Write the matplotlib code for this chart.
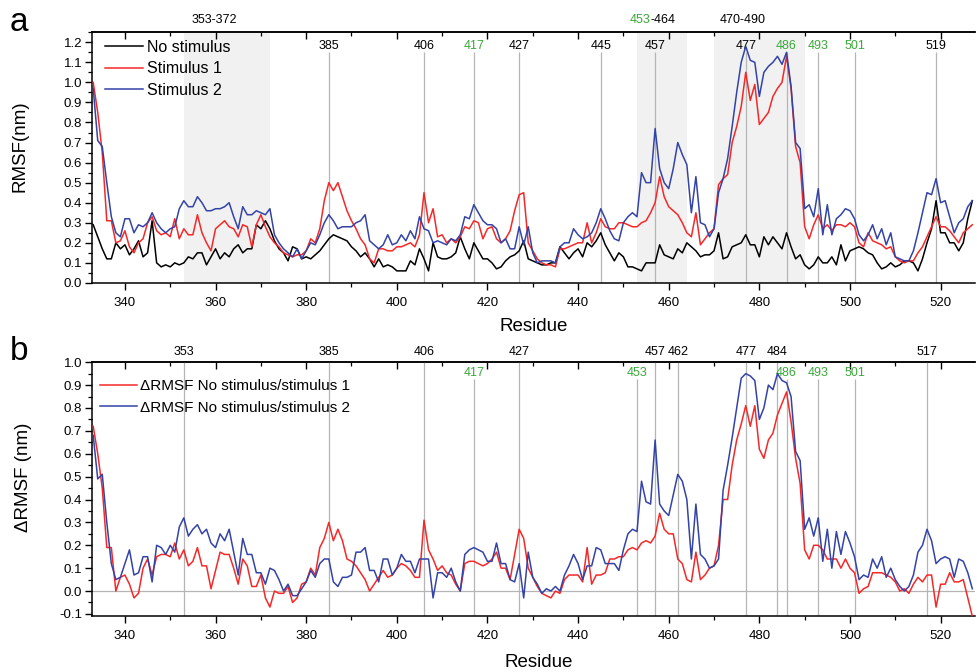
import numpy as np
import matplotlib
matplotlib.use("Agg")
import matplotlib.pyplot as plt
import matplotlib.transforms as mtransforms
from matplotlib.ticker import MultipleLocator, FormatStrFormatter

plt.rcParams['font.family'] = ['Liberation Sans', 'DejaVu Sans']

residues = np.arange(333, 528)

# ---- panel a: RMSF (nm) ----
no_stim_1 = [0.29, 0.23, 0.17, 0.12, 0.12, 0.20, 0.17, 0.19, 0.14, 0.17, 0.21, 0.13, 0.15, 0.31, 0.10,
             0.08, 0.09, 0.08, 0.10, 0.09, 0.10, 0.13, 0.12, 0.15, 0.15, 0.09, 0.13, 0.17, 0.12, 0.15,
             0.13, 0.17, 0.19, 0.15, 0.17, 0.17, 0.29, 0.27, 0.31, 0.27, 0.21, 0.17, 0.15, 0.11, 0.18,
             0.17, 0.12, 0.13, 0.12, 0.14, 0.16, 0.19, 0.22]
no_stim_2 = [0.24, 0.23, 0.22, 0.21, 0.18, 0.16, 0.13, 0.15, 0.12, 0.08, 0.12, 0.08, 0.09, 0.08, 0.06,
             0.06, 0.06, 0.11, 0.09, 0.17, 0.12, 0.06, 0.20, 0.13, 0.12, 0.12, 0.13, 0.15, 0.23, 0.17,
             0.12, 0.20, 0.16, 0.12, 0.12, 0.10, 0.07, 0.08, 0.11, 0.13, 0.14, 0.16, 0.21, 0.12, 0.11,
             0.10, 0.09, 0.09, 0.10, 0.10, 0.18, 0.15, 0.12, 0.15, 0.17, 0.13, 0.20, 0.18, 0.21, 0.25,
             0.19, 0.15, 0.11, 0.15, 0.13, 0.08, 0.08, 0.07, 0.06, 0.10]
no_stim_3 = [0.10, 0.10, 0.19, 0.14, 0.13, 0.12, 0.17, 0.15, 0.20, 0.18, 0.16, 0.13, 0.14, 0.14, 0.16,
             0.25, 0.12, 0.13, 0.18, 0.19, 0.20, 0.24, 0.19, 0.19, 0.13, 0.23, 0.19, 0.23, 0.20, 0.17,
             0.25, 0.18, 0.12, 0.14, 0.09, 0.07, 0.09, 0.13, 0.10, 0.10, 0.13, 0.09, 0.19, 0.11, 0.16,
             0.17, 0.18, 0.17, 0.15, 0.14, 0.10, 0.07, 0.08, 0.10, 0.08, 0.09, 0.11, 0.11, 0.10, 0.06,
             0.12, 0.20, 0.27, 0.41, 0.25, 0.25, 0.20, 0.20, 0.16, 0.20, 0.32, 0.41]

stim1_1 = [1.00, 0.85, 0.65, 0.31, 0.31, 0.20, 0.21, 0.26, 0.18, 0.15, 0.20, 0.22, 0.30, 0.33, 0.26,
           0.24, 0.25, 0.23, 0.32, 0.22, 0.27, 0.24, 0.24, 0.34, 0.25, 0.20, 0.16, 0.27, 0.29, 0.31,
           0.28, 0.27, 0.23, 0.29, 0.28, 0.18, 0.29, 0.34, 0.28, 0.23, 0.20, 0.18, 0.15, 0.14, 0.13,
           0.14, 0.14, 0.16, 0.22, 0.20, 0.27, 0.41, 0.50]
stim1_2 = [0.46, 0.50, 0.43, 0.36, 0.31, 0.27, 0.22, 0.19, 0.12, 0.10, 0.17, 0.17, 0.16, 0.16, 0.18,
           0.18, 0.19, 0.20, 0.18, 0.24, 0.45, 0.30, 0.37, 0.23, 0.24, 0.20, 0.22, 0.20, 0.23, 0.28,
           0.27, 0.31, 0.30, 0.22, 0.27, 0.28, 0.22, 0.20, 0.22, 0.26, 0.36, 0.44, 0.45, 0.20, 0.16,
           0.12, 0.10, 0.09, 0.09, 0.08, 0.17, 0.17, 0.18, 0.19, 0.20, 0.20, 0.30, 0.20, 0.25, 0.32,
           0.28, 0.27, 0.27, 0.30, 0.30, 0.29, 0.28, 0.28, 0.30, 0.31]
stim1_3 = [0.35, 0.40, 0.53, 0.43, 0.38, 0.36, 0.34, 0.30, 0.25, 0.23, 0.35, 0.19, 0.22, 0.25, 0.27,
           0.49, 0.52, 0.54, 0.70, 0.78, 0.88, 1.05, 0.91, 0.99, 0.79, 0.82, 0.85, 0.93, 0.97, 1.00,
           1.13, 0.97, 0.68, 0.60, 0.28, 0.22, 0.29, 0.34, 0.27, 0.29, 0.26, 0.29, 0.29, 0.28, 0.30,
           0.28, 0.20, 0.18, 0.25, 0.21, 0.20, 0.19, 0.17, 0.18, 0.13, 0.11, 0.10, 0.11, 0.11, 0.15,
           0.18, 0.23, 0.28, 0.33, 0.28, 0.28, 0.26, 0.23, 0.20, 0.25, 0.27, 0.29]

stim2_1 = [0.97, 0.71, 0.68, 0.50, 0.33, 0.25, 0.23, 0.32, 0.32, 0.25, 0.29, 0.28, 0.30, 0.35, 0.30,
           0.27, 0.25, 0.27, 0.28, 0.37, 0.41, 0.38, 0.38, 0.43, 0.40, 0.36, 0.36, 0.37, 0.37, 0.38,
           0.40, 0.33, 0.27, 0.38, 0.34, 0.34, 0.36, 0.35, 0.34, 0.37, 0.24, 0.20, 0.17, 0.15, 0.13,
           0.17, 0.12, 0.16, 0.20, 0.19, 0.24, 0.30, 0.34]
stim2_2 = [0.31, 0.27, 0.28, 0.28, 0.28, 0.30, 0.31, 0.34, 0.21, 0.19, 0.17, 0.19, 0.24, 0.19, 0.20,
           0.24, 0.21, 0.26, 0.22, 0.33, 0.27, 0.26, 0.20, 0.21, 0.20, 0.19, 0.22, 0.21, 0.24, 0.33,
           0.32, 0.39, 0.35, 0.31, 0.29, 0.29, 0.27, 0.20, 0.22, 0.17, 0.17, 0.28, 0.19, 0.28, 0.15,
           0.10, 0.11, 0.11, 0.11, 0.10, 0.18, 0.20, 0.20, 0.27, 0.24, 0.22, 0.23, 0.25, 0.30, 0.37,
           0.32, 0.26, 0.22, 0.21, 0.30, 0.33, 0.35, 0.33, 0.55, 0.50]
stim2_3 = [0.50, 0.77, 0.57, 0.50, 0.47, 0.57, 0.70, 0.64, 0.59, 0.35, 0.53, 0.30, 0.29, 0.23, 0.27,
           0.45, 0.52, 0.62, 0.78, 0.95, 1.10, 1.18, 1.11, 1.10, 0.93, 1.05, 1.08, 1.10, 1.13, 1.09,
           1.15, 0.98, 0.70, 0.67, 0.37, 0.39, 0.33, 0.47, 0.24, 0.39, 0.24, 0.32, 0.34, 0.37, 0.36,
           0.32, 0.24, 0.21, 0.24, 0.29, 0.22, 0.27, 0.19, 0.25, 0.13, 0.12, 0.11, 0.11, 0.16, 0.25,
           0.35, 0.45, 0.44, 0.52, 0.40, 0.41, 0.33, 0.25, 0.30, 0.32, 0.38, 0.41]

# ---- panel b: delta RMSF (nm) ----
d1_1 = [0.72, 0.60, 0.45, 0.19, 0.19, 0.00, 0.06, 0.07, 0.03, -0.03, -0.01, 0.10, 0.14, 0.07, 0.15,
        0.16, 0.16, 0.15, 0.21, 0.14, 0.18, 0.11, 0.13, 0.19, 0.11, 0.11, 0.01, 0.09, 0.17, 0.16,
        0.16, 0.10, 0.03, 0.14, 0.11, 0.02, 0.02, 0.07, -0.03, -0.07, 0.00, -0.01, -0.01, 0.02, -0.05,
        -0.03, 0.03, 0.04, 0.10, 0.07, 0.19, 0.23, 0.30]
d1_2 = [0.22, 0.27, 0.22, 0.14, 0.13, 0.11, 0.08, 0.05, 0.00, 0.03, 0.06, 0.09, 0.06, 0.07, 0.10,
        0.12, 0.11, 0.09, 0.06, 0.06, 0.31, 0.18, 0.14, 0.09, 0.11, 0.08, 0.07, 0.03, 0.00, 0.12,
        0.13, 0.13, 0.12, 0.11, 0.12, 0.14, 0.17, 0.10, 0.10, 0.05, 0.16, 0.27, 0.23, 0.10, 0.06,
        0.02, -0.01, -0.02, -0.03, 0.00, -0.01, 0.05, 0.07, 0.07, 0.07, 0.04, 0.19, 0.03, 0.07, 0.07,
        0.08, 0.14, 0.14, 0.15, 0.15, 0.18, 0.19, 0.18, 0.21, 0.22]
d1_3 = [0.21, 0.24, 0.34, 0.27, 0.25, 0.25, 0.14, 0.12, 0.05, 0.04, 0.17, 0.05, 0.07, 0.10, 0.11,
        0.20, 0.40, 0.40, 0.55, 0.66, 0.73, 0.81, 0.72, 0.81, 0.62, 0.58, 0.66, 0.69, 0.77, 0.82,
        0.87, 0.74, 0.58, 0.47, 0.18, 0.14, 0.20, 0.20, 0.18, 0.14, 0.14, 0.14, 0.10, 0.14, 0.10,
        0.08, -0.01, 0.01, 0.02, 0.08, 0.08, 0.08, 0.07, 0.06, 0.04, 0.00, 0.01, -0.01, 0.03, 0.06,
        0.04, 0.07, 0.07, -0.07, 0.03, 0.03, 0.08, 0.04, 0.04, 0.05, -0.03, -0.11]

d2_1 = [0.68, 0.49, 0.51, 0.30, 0.12, 0.05, 0.06, 0.12, 0.18, 0.07, 0.08, 0.15, 0.15, 0.04, 0.20,
        0.19, 0.16, 0.20, 0.17, 0.28, 0.32, 0.24, 0.27, 0.29, 0.25, 0.27, 0.21, 0.19, 0.25, 0.22,
        0.27, 0.17, 0.07, 0.23, 0.16, 0.16, 0.08, 0.08, 0.03, 0.10, 0.09, 0.05, 0.00, 0.03, -0.02,
        -0.02, 0.01, 0.04, 0.09, 0.06, 0.12, 0.14, 0.14]
d2_2 = [0.04, 0.02, 0.06, 0.06, 0.07, 0.17, 0.17, 0.19, 0.09, 0.09, 0.04, 0.14, 0.14, 0.07, 0.10,
        0.16, 0.13, 0.13, 0.08, 0.14, 0.14, 0.14, -0.03, 0.08, 0.08, 0.06, 0.10, 0.04, 0.00, 0.16,
        0.18, 0.19, 0.18, 0.17, 0.13, 0.13, 0.21, 0.12, 0.12, 0.05, 0.04, 0.12, -0.03, 0.17, 0.06,
        0.03, -0.01, 0.01, 0.00, 0.02, 0.00, 0.07, 0.11, 0.16, 0.12, 0.05, 0.11, 0.11, 0.19, 0.18,
        0.12, 0.12, 0.12, 0.09, 0.18, 0.25, 0.27, 0.26, 0.48, 0.39]
d2_3 = [0.38, 0.66, 0.38, 0.35, 0.33, 0.42, 0.51, 0.48, 0.40, 0.14, 0.38, 0.16, 0.14, 0.10, 0.11,
        0.14, 0.44, 0.55, 0.67, 0.80, 0.93, 0.95, 0.94, 0.92, 0.75, 0.80, 0.90, 0.88, 0.95, 0.92,
        0.91, 0.85, 0.61, 0.57, 0.27, 0.32, 0.24, 0.32, 0.13, 0.27, 0.10, 0.26, 0.16, 0.26, 0.21,
        0.15, 0.05, 0.07, 0.06, 0.14, 0.10, 0.15, 0.06, 0.10, 0.05, 0.02, 0.00, 0.02, 0.07, 0.17,
        0.20, 0.27, 0.22, 0.12, 0.14, 0.15, 0.14, 0.06, 0.14, 0.13, 0.08, 0.01]

no_stim = no_stim_1 + no_stim_2 + no_stim_3
stim1 = stim1_1 + stim1_2 + stim1_3
stim2 = stim2_1 + stim2_2 + stim2_3
d_stim1 = d1_1 + d1_2 + d1_3
d_stim2 = d2_1 + d2_2 + d2_3

labels_a = ['No stimulus', 'Stimulus 1', 'Stimulus 2']
labels_b = ['\u0394RMSF No stimulus/stimulus 1', '\u0394RMSF No stimulus/stimulus 2']

regions_a = [(353, 372), (453, 464), (470, 490)]
marks_a = [385, 406, 417, 427, 445, 457, 477, 486, 493, 501, 519]
green_a = [417, 486, 493, 501]
marks_b_top = [353, 385, 406, 427, 457, 462, 477, 484, 517]
marks_b_in = [417, 453, 486, 493, 501]

RED = '#f52828'
BLUE = '#3343a6'
GREEN = '#3aa83a'
VLINE = '#b5b5b5'
SHADE = '#f1f1f1'

fig = plt.figure(figsize=(9.77, 6.72), dpi=100)
axa = fig.add_axes([0.094, 0.579, 0.904, 0.373])
axb = fig.add_axes([0.094, 0.083, 0.904, 0.378])


def style(ax, ylim):
    ax.set_xlim(332.7, 527.6)
    ax.set_ylim(*ylim)
    ax.xaxis.set_major_locator(MultipleLocator(20))
    ax.xaxis.set_minor_locator(MultipleLocator(10))
    ax.yaxis.set_major_locator(MultipleLocator(0.1))
    ax.yaxis.set_minor_locator(MultipleLocator(0.05))
    ax.yaxis.set_major_formatter(FormatStrFormatter('%.1f'))
    ax.spines['right'].set_visible(False)
    for s in ['left', 'bottom', 'top']:
        ax.spines[s].set_linewidth(1.1)
    ax.tick_params(axis='both', which='major', direction='out', length=5, width=1.0,
                   labelsize=9.5, top=False, right=False)
    ax.tick_params(axis='both', which='minor', direction='out', length=3, width=0.9,
                   top=False, right=False)
    ax.tick_params(axis='x', which='major', pad=5)
    ax.tick_params(axis='y', which='major', pad=2)
    sec = ax.secondary_xaxis('top')
    sec.xaxis.set_major_locator(MultipleLocator(20))
    sec.xaxis.set_minor_locator(MultipleLocator(10))
    sec.tick_params(which='major', direction='in', length=5, width=1.0, labeltop=False)
    sec.tick_params(which='minor', direction='in', length=3, width=0.9)
    sec.spines['top'].set_linewidth(1.1)
    ax.set_xlabel('Residue', fontsize=13.5)


# ---------------- panel a ----------------
style(axa, (0, 1.25))
for a, b in regions_a:
    axa.axvspan(a, b, color=SHADE, zorder=0, lw=0)
axa.vlines(marks_a, 0, 1.15, colors=VLINE, lw=0.9, zorder=1)
for m in marks_a:
    axa.text(m, 1.18, str(m), color=GREEN if m in green_a else 'black',
             ha='center', va='center', fontsize=9)

la, = axa.plot(residues, no_stim, color='black', lw=1.1, zorder=3)
lb, = axa.plot(residues, stim1, color=RED, lw=1.1, zorder=4)
lc, = axa.plot(residues, stim2, color=BLUE, lw=1.1, zorder=5)

trans_a = mtransforms.blended_transform_factory(axa.transData, axa.transAxes)
axa.text(359.7, 1.048, '353-372', transform=trans_a, ha='center', va='center', fontsize=9)
axa.text(456.0, 1.048, '453', transform=trans_a, ha='right', va='center', fontsize=9, color=GREEN)
axa.text(456.0, 1.048, '-464', transform=trans_a, ha='left', va='center', fontsize=9)
axa.text(476.4, 1.048, '470-490', transform=trans_a, ha='center', va='center', fontsize=9)

axa.set_ylabel('RMSF(nm)', fontsize=13.5)
axa.yaxis.set_label_coords(-0.072, 0.545)
axa.xaxis.set_label_coords(0.5, -0.14)

axa.legend([la, lb, lc], labels_a, loc='upper left', frameon=False, fontsize=11.5,
           bbox_to_anchor=(105 / 977, 1 - 40 / 672), bbox_transform=fig.transFigure,
           borderpad=0, borderaxespad=0, handlelength=2.4, handletextpad=0.2,
           labelspacing=0.4)

# ---------------- panel b ----------------
style(axb, (-0.11, 1.0))
axb.axhline(0, color=VLINE, lw=0.9, zorder=1)
axb.vlines(marks_b_top, -0.11, 1.0, colors=VLINE, lw=0.9, zorder=1)
axb.vlines(marks_b_in, -0.11, 0.925, colors=VLINE, lw=0.9, zorder=1)
trans_b = mtransforms.blended_transform_factory(axb.transData, axb.transAxes)
for m in marks_b_top:
    axb.text(m, 1.042, str(m), transform=trans_b, ha='center', va='center', fontsize=9)
for m in marks_b_in:
    axb.text(m, 0.953, str(m), ha='center', va='center', fontsize=9, color=GREEN)

l1, = axb.plot(residues, d_stim1, color=RED, lw=1.1, zorder=4)
l2, = axb.plot(residues, d_stim2, color=BLUE, lw=1.1, zorder=5)

axb.set_ylabel('\u0394RMSF (nm)', fontsize=13.5)
axb.yaxis.set_label_coords(-0.068, 0.545)
axb.xaxis.set_label_coords(0.506, -0.15)

axb.legend([l1, l2], labels_b, loc='upper left', frameon=False, fontsize=11,
           bbox_to_anchor=(100 / 977, 1 - 379 / 672), bbox_transform=fig.transFigure,
           borderpad=0, borderaxespad=0, handlelength=2.4, handletextpad=0.25,
           labelspacing=0.5)

fig.text(10 / 977, 1 - 31 / 672, 'a', ha='left', va='baseline', fontsize=24)
fig.text(10 / 977, 1 - 360 / 672, 'b', ha='left', va='baseline', fontsize=24)

fig.savefig('out.png', dpi=100)
